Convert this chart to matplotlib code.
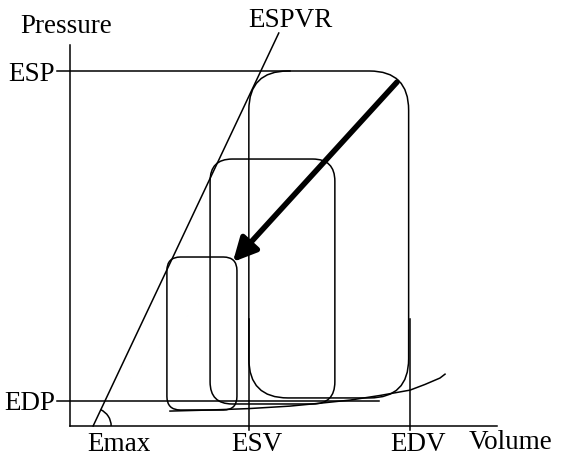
import numpy as np
import matplotlib
matplotlib.use("Agg")
import matplotlib.pyplot as plt
from matplotlib.patches import FancyBboxPatch, FancyArrowPatch, Arc

# landmarks on the axes (arbitrary units)
ESP = 100.0
EDP = 7.0
ESV = 52.6
EDV = 100.0

# ESPVR line: volume intercept and top end
espvr_v = [6.8, 61.4]
espvr_p = [0.0, 110.7]

# pressure-volume loops (large, medium, small)
loop_vmin = [52.6, 41.2, 28.5]
loop_vmax = [99.6, 77.9, 49.1]
loop_pmin = [7.9, 6.2, 4.5]
loop_pmax = [100.0, 75.2, 47.6]
loop_round = [11.5, 6.5, 4.0]

# EDPVR curve
edpvr_v = [29.4, 41.2, 52.6, 64.7, 74.4, 82.4, 91.2, 100.0, 104.4, 108.8, 110.3]
edpvr_p = [4.2, 4.5, 4.9, 5.6, 6.5, 7.3, 8.6, 10.1, 11.7, 13.5, 14.6]

# arrow from the large loop to the small loop
arrow_start = (96.2, 96.9)
arrow_end = (47.9, 46.2)

plt.rcParams['font.family'] = ['Liberation Serif', 'DejaVu Serif']
fs = 19.5
lw = 1.1

fig = plt.figure(figsize=(5.63, 4.59), dpi=100)
ax = fig.add_axes([0, 0, 1, 1])
ax.set_xlim(-20.59, 145.0)
ax.set_ylim(-9.3, 120.0)
ax.axis('off')

# axes
ax.plot([0, 0], [0, 107.3], color='black', lw=lw)
ax.plot([0, 125.6], [0, 0], color='black', lw=lw)

# ESP / EDP reference lines, ESV / EDV drop lines
ax.plot([-3.8, ESV + 12], [ESP, ESP], color='black', lw=lw)
ax.plot([-3.8, 91], [EDP, EDP], color='black', lw=lw)
ax.plot([ESV, ESV], [-1.1, 30], color='black', lw=lw)
ax.plot([EDV, EDV], [-1.1, 30], color='black', lw=lw)

# ESPVR
ax.plot(espvr_v, espvr_p, color='black', lw=lw)
ang = np.degrees(np.arctan2((espvr_p[1] - espvr_p[0]) * 3.55,
                            (espvr_v[1] - espvr_v[0]) * 3.4))
ax.add_patch(Arc((espvr_v[0], espvr_p[0]), 10.6, 10.1, theta1=0, theta2=ang,
                 color='black', lw=lw))

# EDPVR
ax.plot(edpvr_v, edpvr_p, color='black', lw=lw)

# loops
for v0, v1, p0, p1, r in zip(loop_vmin, loop_vmax, loop_pmin, loop_pmax, loop_round):
    box = FancyBboxPatch((v0, p0), v1 - v0, p1 - p0,
                         boxstyle="round,pad=0,rounding_size=%g" % r,
                         mutation_aspect=3.4 / 3.55,
                         fill=False, edgecolor='black', lw=lw)
    ax.add_patch(box)

# arrow
ax.add_patch(FancyArrowPatch(arrow_start, arrow_end,
                             arrowstyle='-|>,head_length=14,head_width=7',
                             mutation_scale=1, lw=4, color='black',
                             shrinkA=0, shrinkB=0))

# labels
ax.text(-1.2, 110.7, 'Pressure', fontsize=fs, ha='center', va='baseline')
ax.text(64.7, 112.4, 'ESPVR', fontsize=fs, ha='center', va='baseline')
ax.text(-4.4, 97.2, 'ESP', fontsize=fs, ha='right', va='baseline')
ax.text(-4.4, 4.5, 'EDP', fontsize=fs, ha='right', va='baseline')
ax.text(14.4, -7.0, 'Emax', fontsize=fs, ha='center', va='baseline')
ax.text(55.0, -7.0, 'ESV', fontsize=fs, ha='center', va='baseline')
ax.text(102.4, -7.0, 'EDV', fontsize=fs, ha='center', va='baseline')
ax.text(129.7, -6.6, 'Volume', fontsize=fs, ha='center', va='baseline')

fig.savefig('out.png', dpi=100)
